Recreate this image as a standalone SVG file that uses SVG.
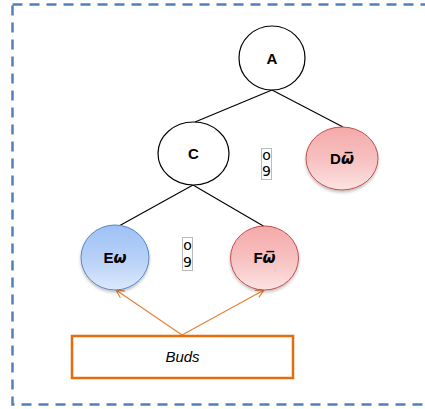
<svg xmlns="http://www.w3.org/2000/svg" width="425" height="409" viewBox="0 0 425 409">
<defs>
<linearGradient id="gRed" x1="0" y1="0" x2="0" y2="1">
<stop offset="0" stop-color="#f5a9a9"/>
<stop offset="0.5" stop-color="#f7c0c0"/>
<stop offset="1" stop-color="#fde3e3"/>
</linearGradient>
<linearGradient id="gBlue" x1="0" y1="0" x2="0" y2="1">
<stop offset="0" stop-color="#9ec1f6"/>
<stop offset="0.5" stop-color="#b6d0f8"/>
<stop offset="1" stop-color="#dce9fc"/>
</linearGradient>
<marker id="arr" markerWidth="10" markerHeight="10" refX="9" refY="5" orient="auto" markerUnits="userSpaceOnUse">
<path d="M1,1 L9,5 L1,9" fill="none" stroke="#e6813a" stroke-width="1.2"/>
</marker>
<filter id="sh" x="-20%" y="-20%" width="140%" height="150%">
<feDropShadow dx="0" dy="2" stdDeviation="1.5" flood-color="#000" flood-opacity="0.25"/>
</filter>
</defs>
<style>
.lbl{font-family:"Liberation Sans",Arial,sans-serif;font-weight:bold;font-size:15px;text-anchor:middle;fill:#000}
.om{font-family:"DejaVu Sans","Liberation Serif",serif;font-style:italic;font-weight:bold}
.plain{fill:#fff;stroke:#000;stroke-width:1.2}
.red{fill:url(#gRed);stroke:#c0504d;stroke-width:1;filter:url(#sh)}
.blue{fill:url(#gBlue);stroke:#5b85c2;stroke-width:1;filter:url(#sh)}
.edge{stroke:#000;stroke-width:1.1;fill:none}
.oedge{stroke:#e6813a;stroke-width:1.2;fill:none;marker-end:url(#arr)}
.gl{fill:#fff;stroke:#bbb;stroke-width:1}
.gt{font-family:"DejaVu Sans","Liberation Sans",sans-serif;font-size:14px;text-anchor:middle;fill:#000}
</style>
<rect x="12.5" y="4.5" width="430" height="400" fill="none" stroke="#4f81bd" stroke-width="2.5" stroke-dasharray="10,7"/>
<g id="connectors">
<line class="edge" x1="272" y1="90" x2="195" y2="122"/>
<line class="edge" x1="272" y1="90" x2="343" y2="127"/>
<line class="edge" x1="193" y1="185" x2="119" y2="226"/>
<line class="edge" x1="193" y1="185" x2="265" y2="227"/>
<line class="oedge" x1="182" y1="335" x2="116" y2="290"/>
<line class="oedge" x1="182" y1="335" x2="264" y2="290"/>
</g>
<g id="A">
<ellipse class="plain" cx="272" cy="58" rx="33" ry="32"/>
<text class="lbl" x="272" y="64">A</text>
</g>
<g id="C">
<ellipse class="plain" cx="193.5" cy="153.5" rx="35.5" ry="31.5"/>
<text class="lbl" x="193.5" y="159">C</text>
</g>
<g id="D">
<ellipse class="red" cx="342" cy="158.5" rx="36" ry="31.5"/>
<text class="lbl" x="342" y="164">D<tspan class="om">ω̅</tspan></text>
</g>
<g id="E">
<ellipse class="blue" cx="115" cy="257.5" rx="34" ry="32.5"/>
<text class="lbl" x="115" y="263">E<tspan class="om">ω</tspan></text>
</g>
<g id="F">
<ellipse class="red" cx="264.5" cy="258" rx="34" ry="32"/>
<text class="lbl" x="264.5" y="263">F<tspan class="om">ω̅</tspan></text>
</g>
<g id="glyph1">
<rect class="gl" x="261.5" y="148.5" width="10" height="31"/>
<text class="gt" x="266.5" y="160" font-size="11">o</text>
<text class="gt" x="266.5" y="176">9</text>
</g>
<g id="glyph2">
<rect class="gl" x="182.5" y="237.5" width="10" height="33"/>
<text class="gt" x="187.5" y="250" font-size="11">o</text>
<text class="gt" x="187.5" y="267">9</text>
</g>
<g id="Buds">
<rect x="72" y="336" width="221" height="42" fill="#fff" stroke="#e46c0a" stroke-width="2.5"/>
<text x="182.5" y="362" font-family="'Liberation Sans',Arial,sans-serif" font-style="italic" font-size="15" text-anchor="middle" fill="#000">Buds</text>
</g>
</svg>
